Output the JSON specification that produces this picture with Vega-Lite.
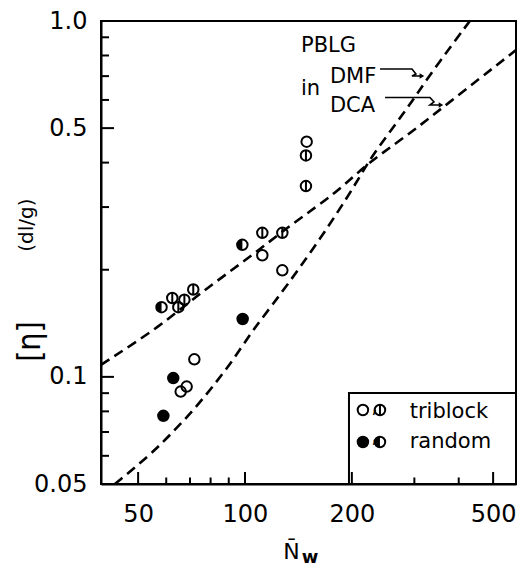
{
  "$schema": "https://vega.github.io/schema/vega-lite/v6.json",
  "autosize": {"type": "none"},
  "padding": {"left": 101, "top": 21, "right": 2, "bottom": 82},
  "width": 415,
  "height": 463,
  "background": "white",
  "config": {
    "view": {"stroke": "black", "strokeWidth": 2},
    "font": "DejaVu Sans"
  },
  "datasets": {
    "pts": [
      {"N": 72.0, "eta": 0.112, "type": "open"},
      {"N": 68.5, "eta": 0.0939, "type": "open"},
      {"N": 65.9, "eta": 0.0909, "type": "open"},
      {"N": 149.2, "eta": 0.458, "type": "open"},
      {"N": 111.9, "eta": 0.2197, "type": "open"},
      {"N": 127.4, "eta": 0.1992, "type": "open"},
      {"N": 62.4, "eta": 0.1666, "type": "lined"},
      {"N": 64.9, "eta": 0.157, "type": "lined"},
      {"N": 67.5, "eta": 0.1648, "type": "lined"},
      {"N": 71.5, "eta": 0.176, "type": "lined"},
      {"N": 148.5, "eta": 0.419, "type": "lined"},
      {"N": 148.5, "eta": 0.3436, "type": "lined"},
      {"N": 111.9, "eta": 0.254, "type": "lined"},
      {"N": 127.4, "eta": 0.254, "type": "lined"},
      {"N": 98.5, "eta": 0.1454, "type": "filled"},
      {"N": 62.8, "eta": 0.0992, "type": "filled"},
      {"N": 58.9, "eta": 0.0777, "type": "filled"},
      {"N": 58.2, "eta": 0.157, "type": "half"},
      {"N": 98.3, "eta": 0.235, "type": "half"},
      {"N": 214.9, "eta": 0.0807, "type": "open"},
      {"N": 240.0, "eta": 0.0807, "type": "lined"},
      {"N": 214.9, "eta": 0.0656, "type": "filled"},
      {"N": 240.0, "eta": 0.0656, "type": "half"}
    ],
    "curves": [
      {"solvent": "DCA", "i": 0, "N": 39.3, "eta": 0.1081},
      {"solvent": "DCA", "i": 1, "N": 57.6, "eta": 0.1385},
      {"solvent": "DCA", "i": 2, "N": 74.7, "eta": 0.1721},
      {"solvent": "DCA", "i": 3, "N": 101.1, "eta": 0.2136},
      {"solvent": "DCA", "i": 4, "N": 136.8, "eta": 0.271},
      {"solvent": "DCA", "i": 5, "N": 181.3, "eta": 0.3293},
      {"solvent": "DCA", "i": 6, "N": 222.1, "eta": 0.3999},
      {"solvent": "DCA", "i": 7, "N": 281.8, "eta": 0.4704},
      {"solvent": "DCA", "i": 8, "N": 365.2, "eta": 0.5773},
      {"solvent": "DCA", "i": 9, "N": 580, "eta": 0.8286},
      {"solvent": "DMF", "i": 0, "N": 43.0, "eta": 0.05},
      {"solvent": "DMF", "i": 1, "N": 54.0, "eta": 0.0603},
      {"solvent": "DMF", "i": 2, "N": 62.8, "eta": 0.0701},
      {"solvent": "DMF", "i": 3, "N": 73.1, "eta": 0.0825},
      {"solvent": "DMF", "i": 4, "N": 83.2, "eta": 0.097},
      {"solvent": "DMF", "i": 5, "N": 92.7, "eta": 0.1116},
      {"solvent": "DMF", "i": 6, "N": 105.5, "eta": 0.136},
      {"solvent": "DMF", "i": 7, "N": 122.8, "eta": 0.1648},
      {"solvent": "DMF", "i": 8, "N": 162.7, "eta": 0.2431},
      {"solvent": "DMF", "i": 9, "N": 206.4, "eta": 0.3512},
      {"solvent": "DMF", "i": 10, "N": 227.0, "eta": 0.4174},
      {"solvent": "DMF", "i": 11, "N": 281.8, "eta": 0.5532},
      {"solvent": "DMF", "i": 12, "N": 334.8, "eta": 0.7169},
      {"solvent": "DMF", "i": 13, "N": 430, "eta": 1.0}
    ],
    "arrows": [
      {"a": "DMF", "i": 0, "N": 240.1, "eta": 0.733},
      {"a": "DMF", "i": 1, "N": 295.4, "eta": 0.733},
      {"a": "DMF", "i": 2, "N": 303.1, "eta": 0.7097},
      {"a": "DMF", "i": 3, "N": 295.4, "eta": 0.7006},
      {"a": "DMF", "i": 4, "N": 315.1, "eta": 0.7006},
      {"a": "DCA", "i": 0, "N": 248.0, "eta": 0.6096},
      {"a": "DCA", "i": 1, "N": 331.9, "eta": 0.6096},
      {"a": "DCA", "i": 2, "N": 340.7, "eta": 0.5922},
      {"a": "DCA", "i": 3, "N": 331.9, "eta": 0.5807},
      {"a": "DCA", "i": 4, "N": 356.5, "eta": 0.5807}
    ],
    "heads": [
      {"N": 315.1, "eta": 0.7006},
      {"N": 356.5, "eta": 0.5807}
    ],
    "labels": [
      {"t": "PBLG", "N": 143.8, "eta": 0.8182},
      {"t": "in", "N": 143.8, "eta": 0.6194},
      {"t": "DMF", "N": 173.5, "eta": 0.6694},
      {"t": "DCA", "N": 173.5, "eta": 0.5549},
      {"t": "triblock", "N": 291.1, "eta": 0.0766},
      {"t": "random", "N": 291.1, "eta": 0.0631},
      {"t": ",", "N": 227.0, "eta": 0.0791},
      {"t": ",", "N": 227.0, "eta": 0.0652}
    ],
    "unit": [{"t": "(dl/g)", "N": 24.3, "eta": 0.267}],
    "sub": [{"t": "w", "N": 152.4, "eta": 0.030}],
    "box": [{"N": 196.3, "N2": 580, "eta": 0.0901, "eta2": 0.05}],
    "yticks": [
      {"N": 39.3, "eta": 0.05, "major": true},
      {"N": 39.3, "eta": 0.06, "major": false},
      {"N": 39.3, "eta": 0.07, "major": false},
      {"N": 39.3, "eta": 0.08, "major": false},
      {"N": 39.3, "eta": 0.09, "major": false},
      {"N": 39.3, "eta": 0.1, "major": true},
      {"N": 39.3, "eta": 0.2, "major": false},
      {"N": 39.3, "eta": 0.3, "major": false},
      {"N": 39.3, "eta": 0.4, "major": false},
      {"N": 39.3, "eta": 0.5, "major": true},
      {"N": 39.3, "eta": 0.6, "major": false},
      {"N": 39.3, "eta": 0.7, "major": false},
      {"N": 39.3, "eta": 0.8, "major": false},
      {"N": 39.3, "eta": 0.9, "major": false}
    ],
    "xticks": [
      {"N": 50, "eta": 0.05, "major": true},
      {"N": 60, "eta": 0.05, "major": false},
      {"N": 70, "eta": 0.05, "major": false},
      {"N": 80, "eta": 0.05, "major": false},
      {"N": 90, "eta": 0.05, "major": false},
      {"N": 100, "eta": 0.05, "major": true},
      {"N": 200, "eta": 0.05, "major": true},
      {"N": 300, "eta": 0.05, "major": false},
      {"N": 400, "eta": 0.05, "major": false},
      {"N": 500, "eta": 0.05, "major": true}
    ]
  },
  "encoding": {
    "x": {
      "field": "N", "type": "quantitative",
      "scale": {"type": "log", "domain": [39.3, 580], "nice": false},
      "axis": {
        "values": [50, 100, 200, 500],
        "labelExpr": "datum.value + ''",
        "grid": false,
        "domainColor": "black", "domainWidth": 2,
        "ticks": false,
        "labelFont": "DejaVu Sans", "labelFontSize": 24, "labelColor": "black",
        "labelPadding": 18, "labelBaseline": "top", "labelFlush": false, "labelOverlap": false,
        "title": "N̄", "titleFont": "DejaVu Sans", "titleFontSize": 22, "titleFontWeight": "normal", "titleColor": "black",
        "titleX": 190, "titleY": 74, "titleBaseline": "alphabetic", "titleAlign": "center"
      }
    },
    "y": {
      "field": "eta", "type": "quantitative",
      "scale": {"type": "log", "domain": [0.05, 1.0], "nice": false},
      "axis": {
        "values": [0.05, 0.1, 0.5, 1.0],
        "labelExpr": "datum.value == 1 ? '1.0' : datum.value == 0.5 ? '0.5' : datum.value == 0.1 ? '0.1' : datum.value == 0.05 ? '0.05' : ''",
        "grid": false,
        "domainColor": "black", "domainWidth": 2,
        "ticks": false,
        "labelFont": "DejaVu Sans", "labelFontSize": 24, "labelColor": "black",
        "labelPadding": 14, "labelFlush": false, "labelOverlap": false,
        "title": "[η]", "titleFont": "DejaVu Sans Condensed", "titleFontSize": 32, "titleFontWeight": "normal", "titleColor": "black",
        "titleAngle": 270, "titleX": -72, "titleY": 320, "titleBaseline": "middle", "titleAlign": "center"
      }
    }
  },
  "layer": [
    {
      "data": {"name": "yticks"},
      "transform": [{"filter": "datum.major"}],
      "mark": {"type": "tick", "orient": "horizontal", "clip": true, "color": "black", "thickness": 2, "size": 26, "opacity": 1}
    },
    {
      "data": {"name": "yticks"},
      "transform": [{"filter": "!datum.major"}],
      "mark": {"type": "tick", "orient": "horizontal", "clip": true, "color": "black", "thickness": 2, "size": 16, "opacity": 1}
    },
    {
      "data": {"name": "xticks"},
      "transform": [{"filter": "datum.major"}],
      "mark": {"type": "tick", "orient": "vertical", "clip": true, "color": "black", "thickness": 2, "size": 24, "opacity": 1}
    },
    {
      "data": {"name": "xticks"},
      "transform": [{"filter": "!datum.major"}],
      "mark": {"type": "tick", "orient": "vertical", "clip": true, "color": "black", "thickness": 2, "size": 13, "opacity": 1}
    },
    {
      "data": {"name": "curves"},
      "mark": {"type": "line", "color": "black", "strokeWidth": 2.6, "strokeDash": [10, 6], "clip": true, "interpolate": "basis"},
      "encoding": {"detail": {"field": "solvent"}, "order": {"field": "i", "type": "quantitative"}}
    },
    {
      "data": {"name": "box"},
      "mark": {"type": "rect", "filled": false, "stroke": "black", "strokeWidth": 2},
      "encoding": {"x2": {"field": "N2"}, "y2": {"field": "eta2"}}
    },
    {
      "data": {"name": "pts"},
      "mark": {"type": "point", "filled": false, "stroke": "black", "strokeWidth": 2, "size": 110, "opacity": 1},
      "encoding": {
        "shape": {
          "field": "type", "type": "nominal", "legend": null,
          "scale": {
            "domain": ["open", "lined", "filled", "half"],
            "range": [
              "M-1,0A1,1,0,1,0,1,0A1,1,0,1,0,-1,0Z",
              "M-1,0A1,1,0,1,0,1,0A1,1,0,1,0,-1,0ZM0,-1L0,1",
              "M-1,0A1,1,0,1,0,1,0A1,1,0,1,0,-1,0Z",
              "M-1,0A1,1,0,1,0,1,0A1,1,0,1,0,-1,0Z"
            ]
          }
        }
      }
    },
    {
      "data": {"name": "pts"},
      "transform": [{"filter": "datum.type == 'filled'"}],
      "mark": {"type": "point", "filled": true, "fill": "black", "strokeWidth": 0, "size": 110, "opacity": 1, "shape": "M-1,0A1,1,0,1,0,1,0A1,1,0,1,0,-1,0Z"}
    },
    {
      "data": {"name": "pts"},
      "transform": [{"filter": "datum.type == 'half'"}],
      "mark": {"type": "point", "filled": true, "fill": "black", "strokeWidth": 0, "size": 110, "opacity": 1, "shape": "M0,-1A1,1,0,0,0,0,1Z"}
    },
    {
      "data": {"name": "arrows"},
      "mark": {"type": "line", "color": "black", "strokeWidth": 1.6},
      "encoding": {"detail": {"field": "a"}, "order": {"field": "i", "type": "quantitative"}}
    },
    {
      "data": {"name": "heads"},
      "mark": {"type": "point", "shape": "triangle-right", "filled": true, "fill": "black", "strokeWidth": 0, "size": 28, "opacity": 1}
    },
    {
      "data": {"name": "labels"},
      "mark": {"type": "text", "font": "DejaVu Sans", "fontSize": 21, "align": "left", "baseline": "alphabetic", "color": "black"},
      "encoding": {"text": {"field": "t"}}
    },
    {
      "data": {"name": "unit"},
      "mark": {"type": "text", "font": "DejaVu Sans", "fontSize": 20, "angle": 270, "align": "center", "baseline": "middle", "color": "black"},
      "encoding": {"text": {"field": "t"}}
    },
    {
      "data": {"name": "sub"},
      "mark": {"type": "text", "font": "DejaVu Sans", "fontSize": 18, "fontWeight": "bold", "align": "center", "baseline": "alphabetic", "color": "black"},
      "encoding": {"text": {"field": "t"}}
    }
  ]
}
